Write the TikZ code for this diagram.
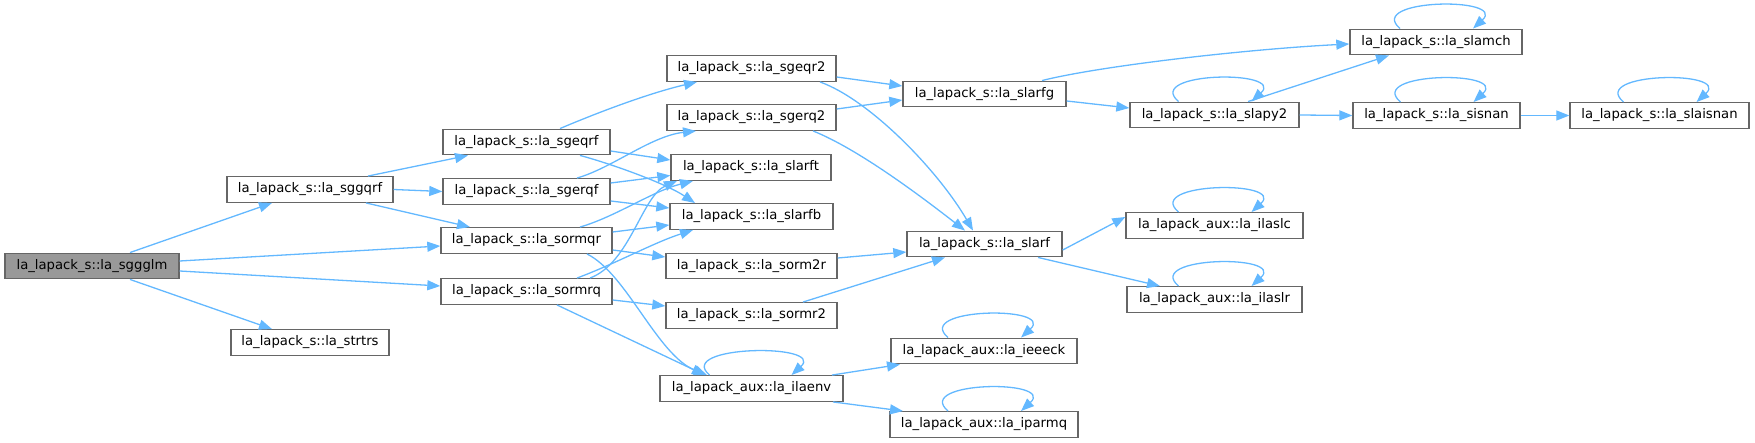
\documentclass[tikz,border=0pt]{standalone}
\usepackage{fontspec}
\setmainfont{DejaVu Sans}
\usetikzlibrary{arrows.meta}
\definecolor{edgec}{HTML}{63B8FF}
\definecolor{boxc}{HTML}{666666}
\definecolor{rootc}{HTML}{999999}
\tikzset{
  box/.style={draw=boxc, line width=1.4pt, fill=white, minimum height=25.5pt, inner sep=0pt,
    font=\fontsize{13.2}{15}\selectfont, text=black},
  rootbox/.style={box, fill=rootc},
  edge/.style={draw=edgec, line width=1.3pt, -{Triangle[length=13pt,width=10pt]}},
}
\newcommand{\selfloop}[1]{\draw[edge] ([xshift=-36pt]#1.north) .. controls +(-35,-30) and +(35,-32) .. ([xshift=37pt]#1.north);}
\begin{document}
\begin{tikzpicture}[x=1pt,y=-1pt]
\useasboundingbox (0,0) rectangle (1755,443);
% nodes
\node[rootbox, minimum width=174pt] (sggglm) at (92,266) {la\_lapack\_s::la\_sggglm};
\node[box, minimum width=166pt] (sggqrf) at (310,189.5) {la\_lapack\_s::la\_sggqrf};
\node[box, minimum width=158pt] (strtrs) at (310,342.5) {la\_lapack\_s::la\_strtrs};
\node[box, minimum width=167pt] (sgeqrf) at (526.5,142) {la\_lapack\_s::la\_sgeqrf};
\node[box, minimum width=167pt] (sgerqf) at (526.5,191.5) {la\_lapack\_s::la\_sgerqf};
\node[box, minimum width=171pt] (sormqr) at (526.5,240.5) {la\_lapack\_s::la\_sormqr};
\node[box, minimum width=171pt] (sormrq) at (526.5,291.5) {la\_lapack\_s::la\_sormrq};
\node[box, minimum width=169pt] (sgeqr2) at (751.5,68.5) {la\_lapack\_s::la\_sgeqr2};
\node[box, minimum width=169pt] (sgerq2) at (751.5,117.5) {la\_lapack\_s::la\_sgerq2};
\node[box, minimum width=160pt] (slarft) at (751,167.5) {la\_lapack\_s::la\_slarft};
\node[box, minimum width=163pt] (slarfb) at (751.5,216.5) {la\_lapack\_s::la\_slarfb};
\node[box, minimum width=171pt] (sorm2r) at (751.5,266) {la\_lapack\_s::la\_sorm2r};
\node[box, minimum width=171pt] (sormr2) at (751.5,315.5) {la\_lapack\_s::la\_sormr2};
\node[box, minimum width=183pt] (ilaenv) at (751.5,388.5) {la\_lapack\_aux::la\_ilaenv};
\node[box, minimum width=163pt] (slarfg) at (984.5,94) {la\_lapack\_s::la\_slarfg};
\node[box, minimum width=155pt] (slarf) at (984.5,244) {la\_lapack\_s::la\_slarf};
\node[box, minimum width=186pt] (ieeeck) at (984,351) {la\_lapack\_aux::la\_ieeeck};
\node[box, minimum width=188pt] (iparmq) at (984,424.5) {la\_lapack\_aux::la\_iparmq};
\node[box, minimum width=169pt] (slapy2) at (1214.5,115) {la\_lapack\_s::la\_slapy2};
\node[box, minimum width=177pt] (ilaslc) at (1214.5,225.5) {la\_lapack\_aux::la\_ilaslc};
\node[box, minimum width=175pt] (ilaslr) at (1214.5,299.5) {la\_lapack\_aux::la\_ilaslr};
\node[box, minimum width=172pt] (slamch) at (1436,42) {la\_lapack\_s::la\_slamch};
\node[box, minimum width=167pt] (sisnan) at (1436.5,115.5) {la\_lapack\_s::la\_sisnan};
\node[box, minimum width=179pt] (slaisnan) at (1659.5,115.5) {la\_lapack\_s::la\_slaisnan};
% edges
\draw[edge] ([xshift=38pt]sggglm.north) -- ([xshift=-38pt]sggqrf.south);
\draw[edge] ([yshift=5pt]sggglm.east) -- ([yshift=-5.5pt]sormqr.west);
\draw[edge] ([yshift=-5pt]sggglm.east) -- ([yshift=5.5pt]sormrq.west);
\draw[edge] ([xshift=38pt]sggglm.south) -- ([xshift=-38pt]strtrs.north);
\draw[edge] ([xshift=58pt]sggqrf.north) -- ([xshift=-58.5pt]sgeqrf.south);
\draw[edge] (sggqrf.east) -- (sgerqf.west);
\draw[edge] ([xshift=56pt]sggqrf.south) -- ([xshift=-56.5pt]sormqr.north);
\draw[edge] ([xshift=33.5pt]sgeqrf.north) .. controls +(40,-17) and +(-47,11) .. ([xshift=-54.5pt]sgeqr2.south);
\draw[edge] ([yshift=-9pt]sgeqrf.east) -- ([yshift=7.5pt]slarft.west);
\draw[edge] ([xshift=53.5pt]sgeqrf.south) .. controls +(30,8) and +(-30,-20) .. ([xshift=-56.5pt]slarfb.north);
\draw[edge] ([xshift=50.5pt]sgerqf.north) .. controls +(35,-10) and +(-45,5) .. ([xshift=-55.5pt]sgerq2.south);
\draw[edge] ([yshift=8.5pt]sgerqf.east) -- ([yshift=-8pt]slarft.west);
\draw[edge] ([yshift=-9.5pt]sgerqf.east) -- ([yshift=8.5pt]slarfb.west);
\draw[edge] ([xshift=53.5pt]sormqr.north) .. controls +(35,-10) and +(-40,10) .. ([xshift=-58pt]slarft.south);
\draw[edge] ([yshift=8.5pt]sormqr.east) -- ([yshift=-8.5pt]slarfb.west);
\draw[edge] ([yshift=-9.5pt]sormqr.east) -- ([yshift=9pt]sorm2r.west);
\draw[edge] ([xshift=60.5pt]sormqr.south) .. controls +(40,20) and +(-50,-20) .. ([xshift=-44.5pt]ilaenv.north);
\draw[edge] ([xshift=63.5pt]sormrq.north) .. controls +(40,-15) and +(-35,15) .. ([xshift=-74pt]slarft.south);
\draw[edge] ([xshift=50.5pt]sormrq.north) .. controls +(40,-15) and +(-40,13) .. ([xshift=-58.5pt]slarfb.south);
\draw[edge] ([yshift=-8.5pt]sormrq.east) -- ([yshift=9.5pt]sormr2.west);
\draw[edge] ([xshift=30.5pt]sormrq.south) -- ([xshift=-46.5pt]ilaenv.north);
\draw[edge] ([yshift=-8.5pt]sgeqr2.east) -- ([yshift=8pt]slarfg.west);
\draw[edge] ([xshift=68.5pt]sgeqr2.south) .. controls +(50,18) and +(-35,-60) .. ([xshift=-11.5pt]slarf.north);
\draw[edge] ([yshift=8.5pt]sgerq2.east) -- ([yshift=-6pt]slarfg.west);
\draw[edge] ([xshift=61.5pt]sgerq2.south) .. controls +(45,18) and +(-45,-35) .. ([xshift=-19.5pt]slarf.north);
\draw[edge] ([yshift=8pt]sorm2r.east) -- ([yshift=-8pt]slarf.west);
\draw[edge] ([xshift=51.5pt]sormr2.north) -- ([xshift=-39.5pt]slarf.south);
\draw[edge] ([xshift=57.5pt]slarfg.north) .. controls +(60,-15) and +(-100,5) .. ([yshift=-2pt]slamch.west);
\draw[edge] ([yshift=-7pt]slarfg.east) -- ([yshift=7pt]slapy2.west);
\draw[edge] ([xshift=33.5pt]slapy2.north) -- ([xshift=-47pt]slamch.south);
\draw[edge] (slapy2.east) -- (sisnan.west);
\draw[edge] (sisnan.east) -- (slaisnan.west);
\draw[edge] ([yshift=-6pt]slarf.east) -- ([yshift=8.5pt]ilaslc.west);
\draw[edge] ([xshift=53.5pt]slarf.south) -- ([xshift=-54.5pt]ilaslr.north);
\draw[edge] ([xshift=80.5pt]ilaenv.north) -- ([xshift=-84pt]ieeeck.south);
\draw[edge] ([xshift=81.5pt]ilaenv.south) -- ([xshift=-81pt]iparmq.north);
% self loops
\selfloop{slapy2}
\selfloop{slamch}
\selfloop{sisnan}
\selfloop{slaisnan}
\selfloop{ilaslc}
\selfloop{ilaslr}
\selfloop{ieeeck}
\selfloop{iparmq}
\draw[edge] ([xshift=-42pt]ilaenv.north) .. controls +(-35,-30) and +(35,-32) .. ([xshift=40pt]ilaenv.north);
\end{tikzpicture}
\end{document}
